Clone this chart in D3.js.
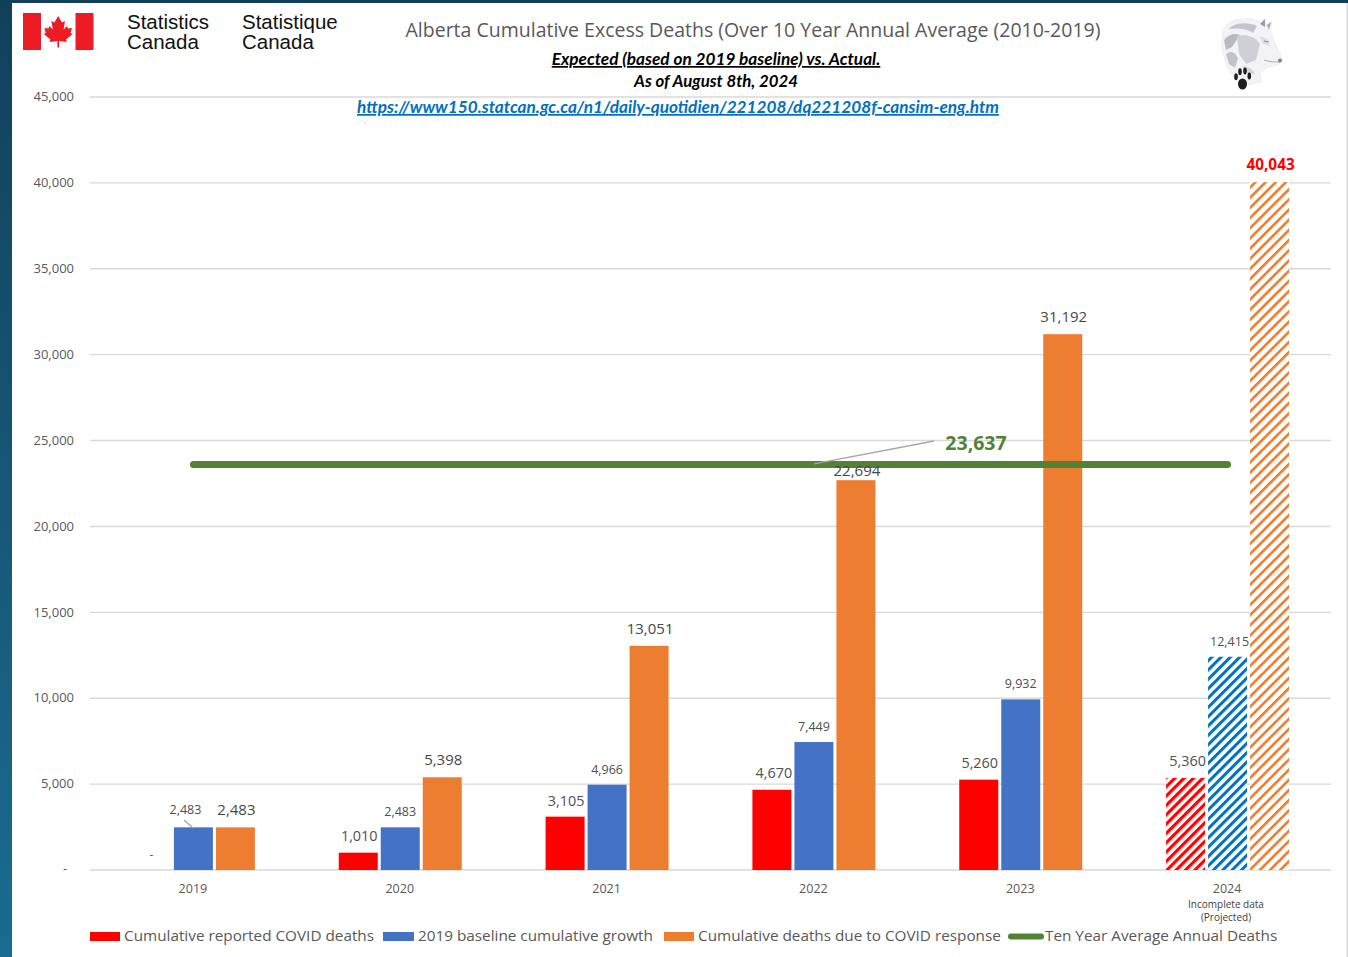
<!DOCTYPE html>
<html><head><meta charset="utf-8">
<script src="https://cdn.jsdelivr.net/npm/d3@7"></script>
<style>html,body{margin:0;padding:0;background:#fff;overflow:hidden}svg{display:block}text{font-family:"Open Sans",sans-serif}</style>
</head><body><svg id="c" width="1348" height="957"></svg>
<script>
const years = ["2019","2020","2021","2022","2023","2024"];
const reported = [0,1010,3105,4670,5260,5360];
const baseline = [2483,2483,4966,7449,9932,12415];
const response = [2483,5398,13051,22694,31192,40043];
const tenYearAverage = 23637;
const yTicks = [0,5000,10000,15000,20000,25000,30000,35000,40000,45000];
const seriesNames = ["Cumulative reported COVID deaths","2019 baseline cumulative growth","Cumulative deaths due to COVID response","Ten Year Average Annual Deaths"];
const seriesColors = ["#ff0000","#4472c4","#ed7d31","#548235"];
const hatchColors = ["#ff0000","#0070c0","#ed7d31"];

const svg = d3.select("#c");
const W=1348,H=957;
const defs = svg.append("defs");
const bg = defs.append("linearGradient").attr("id","bg").attr("x1",0).attr("x2",0).attr("y1",0).attr("y2",1);
bg.append("stop").attr("offset","0").attr("stop-color","#12405a");
bg.append("stop").attr("offset","1").attr("stop-color","#1b6c92");
const hatchPeriod=[6.6,6.6,7.2], hatchStripe=[3.2,3,2.6];
hatchColors.forEach((c,i)=>{
  const p = defs.append("pattern").attr("id","hatch"+i).attr("patternUnits","userSpaceOnUse")
    .attr("width",hatchPeriod[i]).attr("height",hatchPeriod[i]).attr("patternTransform","rotate(45)");
  p.append("rect").attr("width",hatchPeriod[i]).attr("height",hatchPeriod[i]).attr("fill","#fff");
  p.append("rect").attr("width",hatchStripe[i]).attr("height",hatchPeriod[i]).attr("fill",c);
});
svg.append("rect").attr("width",W).attr("height",H).attr("fill","#fff");
svg.append("rect").attr("width",12).attr("height",H).attr("fill","url(#bg)");
svg.append("rect").attr("width",W).attr("height",3).attr("fill","#12405a");
svg.append("rect").attr("x",1346.5).attr("y",3).attr("width",1.5).attr("height",H).attr("fill","#d9d9d9");

const y = d3.scaleLinear().domain([0,45000]).range([870,97]);
const x = d3.scaleBand().domain(years).range([90,1331]);
const sub = d3.scaleBand().domain([0,1,2]).range([-61.5,61.5]).paddingInner(0.0714);
const cx = d => x(d)+x.bandwidth()/2;

// grid and axes
const yAxis = d3.axisLeft(y).tickValues(yTicks).tickSize(0).tickPadding(16)
  .tickFormat(d=> d===0 ? "" : d3.format(",")(d));
const gy = svg.append("g").attr("transform","translate(90,-0.5)").call(yAxis);
gy.select(".domain").remove();
gy.selectAll("text").attr("fill","#595959").style("font-size","13px");
svg.append("g").selectAll("line").data(yTicks).join("line")
  .attr("x1",90).attr("x2",1331).attr("y1",d=>y(d)).attr("y2",d=>y(d))
  .attr("stroke","#d9d9d9").attr("stroke-width",1.4);
const xAxis = d3.axisBottom(x).tickSize(0).tickPadding(14);
const gx = svg.append("g").attr("transform","translate(-0.5,870)").call(xAxis);
gx.select(".domain").remove();
gx.selectAll("text").attr("fill","#595959").style("font-size","12.5px");

// bars
const series = [reported,baseline,response];
series.forEach((vals,s)=>{
  svg.append("g").selectAll("rect").data(years.map((yr,i)=>({yr,v:vals[i]}))).join("rect")
    .attr("x",d=>cx(d.yr)+sub(s)).attr("width",sub.bandwidth())
    .attr("y",d=>y(d.v)).attr("height",d=>y(0)-y(d.v))
    .attr("fill",d=>d.yr==="2024" ? `url(#hatch${s})` : seriesColors[s]);
});

// average line
svg.append("line").attr("x1",cx(years[0])).attr("x2",cx(years[5]))
  .attr("y1",y(tenYearAverage)+0.5).attr("y2",y(tenYearAverage)+0.5)
  .attr("stroke",seriesColors[3]).attr("stroke-width",7).attr("stroke-linecap","round");

// leader lines
const lead = (a,b,c,d)=>svg.append("line").attr("x1",a).attr("y1",b).attr("x2",c).attr("y2",d).attr("stroke","#a6a6a6").attr("stroke-width",1.3);
lead(814,y(tenYearAverage),934,441);
lead(184,820,193,828);

// data labels
const fmt = d3.format(",");
const lbl = (t,px,py,size,fill,weight,anchor)=>svg.append("text").text(t).attr("x",px).attr("y",py)
  .attr("text-anchor",anchor||"middle").attr("fill",fill||"#404040").attr("font-weight",weight||400).style("font-size",size+"px");
lbl("-",65,873,13,"#595959");
const redDx=[0,1,1,2,1,2], redDy=[0,-12,-11,-12,-12,-12];
reported.forEach((v,i)=>{
  if(v===0){ lbl("-",cx(years[i])+sub(0)+sub.bandwidth()/2,859,12,"#595959"); return; }
  lbl(fmt(v),cx(years[i])+sub(0)+sub.bandwidth()/2+redDx[i],y(v)+redDy[i],14.4,"#505050");
});
const blueDx=[-8,0,0,0,0,2], blueDy=[-13,-11,-11,-11,-11,-11];
baseline.forEach((v,i)=>lbl(fmt(v),cx(years[i])+sub(1)+sub.bandwidth()/2+blueDx[i],y(v)+blueDy[i],12.5,"#505050"));
const orangeDy=[-12,-12,-12,-4,-12];
response.forEach((v,i)=>{
  if(i===5) lbl(fmt(v),cx(years[i])+sub(2)+sub.bandwidth()/2+1,y(v)-12,15.4,"#ff0000",700);
  else lbl(fmt(v),cx(years[i])+sub(2)+sub.bandwidth()/2+1,y(v)+orangeDy[i],15,"#484848");
});
lbl(fmt(tenYearAverage),976,450,19.5,seriesColors[3],700);
lbl("Incomplete data",1226,908,10,"#404040");
lbl("(Projected)",1226,921,10,"#404040");

// legend
const legX=[90,383,664,1008], legT=[124,418,698,1045];
[0,1,2].forEach(i=>svg.append("rect").attr("x",legX[i]).attr("y",932).attr("width",i===1?31:30).attr("height",9).attr("fill",seriesColors[i]));
svg.append("line").attr("x1",1011).attr("x2",1041).attr("y1",936.5).attr("y2",936.5).attr("stroke",seriesColors[3]).attr("stroke-width",6).attr("stroke-linecap","round");
seriesNames.forEach((n,i)=>lbl(n,legT[i],941,15.3,"#595959",400,"start"));

// header
lbl("Alberta Cumulative Excess Deaths (Over 10 Year Annual Average (2010-2019)",753,37,19.5,"#595959");
const sty = (t,size)=>t.attr("font-style","italic").style("font-family","Lato, sans-serif").style("font-size",size+"px");
sty(lbl("Expected (based on 2019 baseline) vs. Actual.",716,65,17.2,"#000",700),17.2).attr("text-decoration","underline");
sty(lbl("As of August 8th, 2024",716,87,16.8,"#000",700),16.8);
sty(lbl("https://www150.statcan.gc.ca/n1/daily-quotidien/221208/dq221208f-cansim-eng.htm",678,113,17.2,"#0070c0",700),17.2).attr("text-decoration","underline");

// flag
const flag = svg.append("g").attr("transform","translate(23,13)");
flag.append("rect").attr("width",18).attr("height",37).attr("fill","#ed1c24");
flag.append("rect").attr("x",52.5).attr("width",18).attr("height",37).attr("fill","#ed1c24");
flag.append("path").attr("fill","#ed1c24").attr("d","M35.2 3 L39 9.5 L42 8 L40.6 16.5 L44 13 L45 15.5 L49 15 L47.6 20 L49.6 21 L43 26.5 L43.8 29 L36 28 L36 34.5 L34.4 34.5 L34.4 28 L26.6 29 L27.4 26.5 L20.8 21 L22.8 20 L21.4 15 L25.4 15.5 L26.4 13 L29.8 16.5 L28.4 8 L31.4 9.5 Z");
const sc=(a,b,px)=>{
  const t=svg.append("text").attr("fill","#111").style("font-size","20.5px").style("font-family","'Liberation Sans',Arial,sans-serif");
  t.append("tspan").attr("x",px).attr("y",28.5).text(a);
  t.append("tspan").attr("x",px).attr("y",49).text(b);
};
sc("Statistics","Canada",127); sc("Statistique","Canada",242);

// wolf emblem
const wolf = svg.append("g").attr("transform","translate(1220,16)");
wolf.append("path").attr("fill","#f3f3f7").attr("stroke","#eeeeee").attr("stroke-width",1)
  .attr("d","M3.3 14 C7 8 11 5 15 4 L30 2.3 L40 5.7 L45 2.3 L45 9 L51.7 5.7 L50 14 L55 27.3 L62.7 44 L58.3 49 L46.7 51.3 L40 57 L41.7 65.7 L26.7 69 L16.7 65.7 L6.7 50.7 L1.7 30.7 Z");
[["M8 13 C16 6 28 6 37 10 L33 17 C26 12 16 12 8 13Z","#c4c4cc"],
 ["M4 24 C9 18 15 17 20 19 L12 31 L6 34Z","#b9b9c3"],
 ["M17 20 C26 18 35 20 40 28 L36 44 L26 48 L19 38Z","#cfcfd8"],
 ["M6 38 C11 34 15 36 18 42 L15 52 L9 48Z","#c2c2cb"],
 ["M22 50 C28 50 33 53 35 58 L28 58Z","#d5d5dc"],
 ["M40 8 L45 3 L45 11Z","#9c9ca5"],["M47 9 L51 6 L49 14Z","#a8a8b0"],
 ["M40 20 L47 23 L50 30 L43 28Z","#dddde2"]].forEach(d=>wolf.append("path").attr("d",d[0]).attr("fill",d[1]));
wolf.append("path").attr("d","M44 25 L49 26").attr("stroke","#8d8d80").attr("stroke-width",1).attr("fill","none");
wolf.append("path").attr("d","M44 44 C50 46 55 46 60 46").attr("stroke","#aaaab2").attr("stroke-width",1).attr("fill","none");
wolf.append("circle").attr("cx",60).attr("cy",44.5).attr("r",2).attr("fill","#85858d");
const paw = wolf.append("g").attr("fill","#1d1d22");
paw.append("ellipse").attr("cx",22.5).attr("cy",68).attr("rx",4.5).attr("ry",5.5);
[[16,60.7],[20,55.7],[25,55],[29.3,60]].forEach(p=>paw.append("ellipse").attr("cx",p[0]).attr("cy",p[1]).attr("rx",1.8).attr("ry",3.4));
</script></body></html>
